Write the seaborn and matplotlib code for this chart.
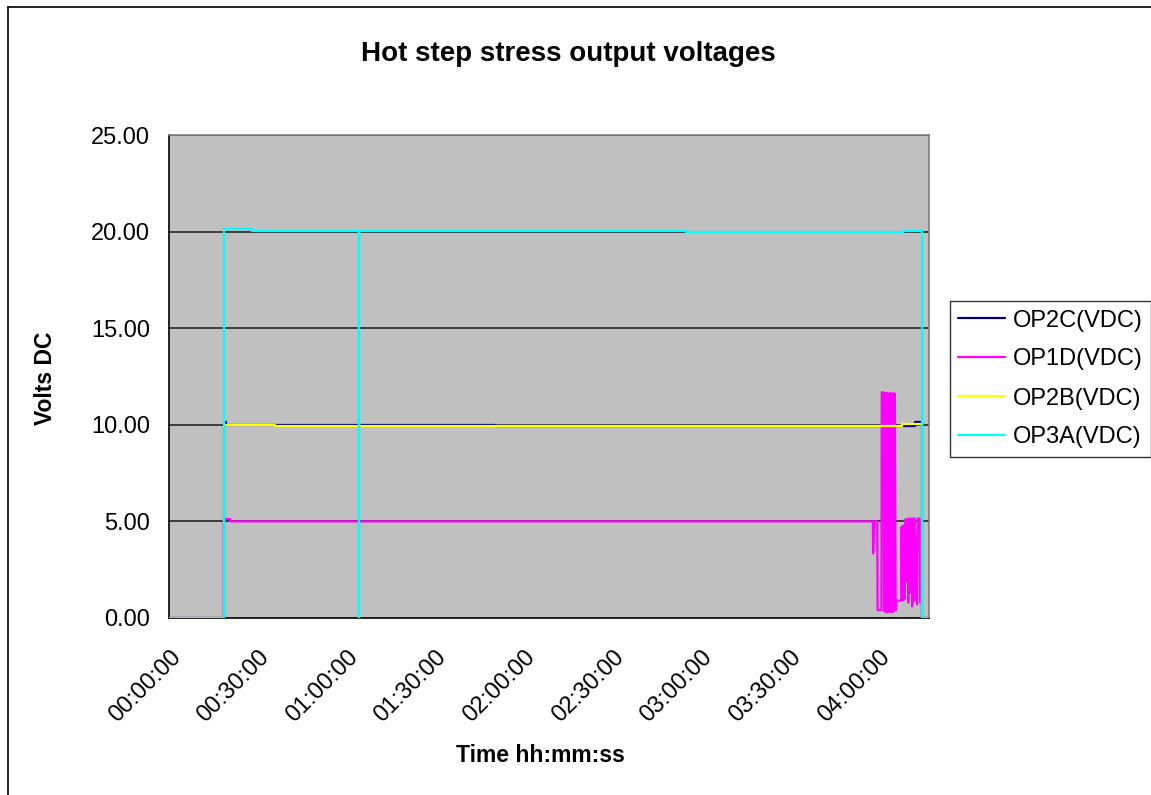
import matplotlib
matplotlib.use("Agg")
import matplotlib.pyplot as plt
import matplotlib.transforms as mtransforms
from matplotlib.lines import Line2D
import seaborn as sns
import pandas as pd

# ---------------- data (time in minutes, values in volts DC) ----------------
tick_minutes = [0, 30, 60, 90, 120, 150, 180, 210, 240]
tick_labels = ["00:00:00", "00:30:00", "01:00:00", "01:30:00", "02:00:00",
               "02:30:00", "03:00:00", "03:30:00", "04:00:00"]
series_names = ["OP2C(VDC)", "OP1D(VDC)", "OP2B(VDC)", "OP3A(VDC)"]
series_colors = ["#000080", "#FF00FF", "#FFFF00", "#00FFFF"]

op2c_t = [0, 18.4, 18.4, 19.0, 19.0, 110.0, 110.0, 252.2, 252.2, 254.6, 254.6, 257]
op2c_v = [0, 0, 10.12, 10.12, 10.0, 10.0, 9.92, 9.92, 10.15, 10.15, 0, 0]

op1d_t = [0, 18.4, 18.4, 20.5, 20.5, 238.0, 238.1, 238.4, 239.5, 239.6, 240.9,
          241.0, 241.6, 241.8, 242.0, 242.2, 242.45, 242.7, 242.95, 243.2,
          243.45, 243.7, 243.95, 244.2, 244.45, 244.7, 244.95, 245.2, 245.45,
          245.7, 245.8, 247.6, 247.7, 247.9, 248.1, 248.3, 248.5, 248.8, 249.0,
          249.4, 249.5, 249.7, 250.0, 250.2, 250.6, 250.8, 251.3, 251.5, 252.0,
          252.2, 253.0, 253.2, 253.9, 254.0, 254.6, 254.6, 257]
op1d_v = [0, 0, 5.12, 5.12, 5.0, 5.0, 3.35, 5.0, 5.0, 0.4, 0.4,
          11.68, 11.68, 0.35, 11.65, 0.35, 11.65, 0.3, 11.65, 0.35,
          11.6, 0.3, 11.65, 0.35, 11.6, 0.3, 11.65, 0.4, 11.6,
          0.4, 0.9, 0.9, 4.7, 1.0, 4.75, 0.9, 4.8, 1.0, 5.1,
          5.1, 1.9, 5.1, 0.8, 5.15, 1.3, 5.15, 0.6, 5.15, 0.9,
          5.15, 0.7, 5.15, 5.15, 0.8, 0.8, 0, 0]

op2b_t = [0, 18.4, 18.4, 35.8, 35.8, 247.7, 247.7, 254.6, 254.6, 257]
op2b_v = [0, 0, 10.0, 10.0, 9.92, 9.92, 10.03, 10.03, 0, 0]

op3a_t = [0, 18.4, 18.4, 28.0, 28.0, 64.0, 64.0, 64.2, 64.2, 174.7, 174.7,
          248.1, 248.1, 254.6, 254.6, 257]
op3a_v = [0, 0, 20.15, 20.15, 20.05, 20.05, 0, 0, 20.05, 20.05, 19.97,
          19.97, 20.05, 20.05, 0, 0]

series_t = [op2c_t, op1d_t, op2b_t, op3a_t]
series_v = [op2c_v, op1d_v, op2b_v, op3a_v]

# ---------------- figure ----------------
sns.set_style("white")
plt.rcParams["font.family"] = ["Liberation Sans", "DejaVu Sans"]
plt.rcParams["text.color"] = "black"
plt.rcParams["xtick.color"] = "black"
plt.rcParams["ytick.color"] = "black"
plt.rcParams["axes.labelcolor"] = "black"

W, H = 1151, 795
fig = plt.figure(figsize=(W / 100, H / 100), dpi=100)
fig.patch.set_facecolor("white")

ax_l, ax_r, ax_t, ax_b = 169.5, 929, 135, 618
ax = fig.add_axes([ax_l / W, 1 - ax_b / H, (ax_r - ax_l) / W, (ax_b - ax_t) / H])
ax.set_facecolor("#C0C0C0")

for name, color, t, v in zip(series_names, series_colors, series_t, series_v):
    df = pd.DataFrame({"t": t, "v": v})
    sns.lineplot(data=df, x="t", y="v", ax=ax, sort=False, estimator=None,
                 color=color, linewidth=1.6, label=name, zorder=3)

ax.set_xlim(0, 257)
ax.set_ylim(0, 25)
ax.set_yticks([0, 5, 10, 15, 20, 25])
ax.set_yticklabels([f"{y:.2f}" for y in [0, 5, 10, 15, 20, 25]], fontsize=17,
                   color="black")
ax.set_xticks(tick_minutes)
ax.set_xticklabels(tick_labels, fontsize=17, rotation=45, ha="right",
                   va="top", rotation_mode="anchor", color="black")
offset = mtransforms.ScaledTranslation(-9 / 100, 0, fig.dpi_scale_trans)
for lab in ax.get_xticklabels():
    lab.set_transform(lab.get_transform() + offset)

ax.grid(False)
for y in [5, 10, 15, 20, 25]:
    ax.axhline(y, color="#303030", linewidth=1.3, zorder=1)

ax.tick_params(axis="both", direction="out", length=5, width=1.2, color="black")
ax.tick_params(axis="y", pad=9)
ax.tick_params(axis="x", pad=15)
ax.set_xlabel("")
ax.set_ylabel("")
for side in ["top", "right"]:
    ax.spines[side].set_color("#808080")
    ax.spines[side].set_linewidth(1.2)
for side in ["left", "bottom"]:
    ax.spines[side].set_color("black")
    ax.spines[side].set_linewidth(1.2)

leg = ax.legend(loc="center left", bbox_to_anchor=(950 / W, 1 - 379 / H),
                bbox_transform=fig.transFigure, fontsize=17, frameon=True,
                fancybox=False, edgecolor="black", handlelength=2.0,
                handletextpad=0.3, labelspacing=0.72, borderpad=0.35,
                borderaxespad=0)
leg.get_frame().set_linewidth(1.0)
for line in leg.get_lines():
    line.set_linewidth(1.6)
for txt in leg.get_texts():
    txt.set_color("black")

fig.text(568 / W, 1 - 54 / H, "Hot step stress output voltages",
         ha="center", va="center", fontsize=20, fontweight="bold", color="black")
fig.text(45 / W, 1 - 378 / H, "Volts DC", ha="center", va="center",
         rotation=90, fontsize=16.5, fontweight="bold", color="black")
fig.text(540 / W, 1 - 756 / H, "Time hh:mm:ss", ha="center", va="center",
         fontsize=16.5, fontweight="bold", color="black")

# chart-area border (left and top edges visible in the crop)
fig.add_artist(Line2D([8 / W, 8 / W], [0, 1 - 7 / H], transform=fig.transFigure,
                      color="black", linewidth=1.2))
fig.add_artist(Line2D([8 / W, 1], [1 - 7 / H, 1 - 7 / H], transform=fig.transFigure,
                      color="black", linewidth=1.2))

fig.savefig("out.png", dpi=100)
